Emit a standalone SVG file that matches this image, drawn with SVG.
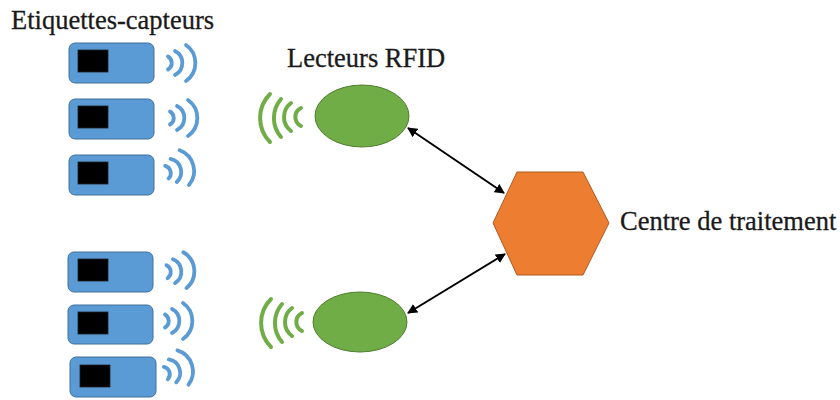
<svg xmlns="http://www.w3.org/2000/svg" width="840" height="400" viewBox="0 0 840 400">
  <defs>
    <style>
      .label { font-family: 'Liberation Serif', 'Times New Roman', serif; font-size: 26.5px; fill: #1a1a1a; stroke: #1a1a1a; stroke-width: 0.3; }
      .tag { fill: #5B9BD5; stroke: #41719C; stroke-width: 1; }
      .chip { fill: #000; stroke: #222; stroke-width: 0.8; }
      .bwave { fill: none; stroke: #5B9BD5; stroke-width: 3.8; stroke-linecap: round; }
      .gwave { fill: none; stroke: #70AD47; stroke-width: 4; stroke-linecap: round; }
      .reader { fill: #70AD47; stroke: #507E32; stroke-width: 1; }
      .hub { fill: #ED7D31; stroke: #AE5A21; stroke-width: 1; }
      .link { stroke: #000; stroke-width: 2; fill: none; marker-start: url(#head); marker-end: url(#head); }
    </style>
    <marker id="head" viewBox="0 0 10 10" refX="9" refY="5" markerWidth="5" markerHeight="5" orient="auto-start-reverse" markerUnits="strokeWidth">
      <path d="M0,0 L10,5 L0,10 z" fill="#000"/>
    </marker>
    <!-- tag emission waves, local origin at the left of the waves, vertical centre -->
    <g id="tagWaves">
      <path class="bwave" d="M3,-6.5 A7.5 7.5 0 0 1 3,6.5"/>
      <path class="bwave" d="M10,-12 A13.5 13.5 0 0 1 10,12"/>
      <path class="bwave" d="M21,-18 A22 22 0 0 1 21,18"/>
    </g>
    <!-- reader emission waves (opening to the right) -->
    <g id="readerWaves">
      <path class="gwave" d="M270,94 A34 34 0 0 0 270,142"/>
      <path class="gwave" d="M281,99 A29 29 0 0 0 281,137"/>
      <path class="gwave" d="M291,103 A17.5 17.5 0 0 0 291,131"/>
      <path class="gwave" d="M301,108 A10 10 0 0 0 301,126"/>
    </g>
  </defs>

  <rect width="840" height="400" fill="#fff"/>

  <!-- titles -->
  <text class="label" x="11" y="29">Etiquettes-capteurs</text>
  <text class="label" x="287" y="67">Lecteurs RFID</text>
  <text class="label" x="620" y="230">Centre de traitement</text>

  <!-- sensor tags -->
  <g id="tag1">
    <rect class="tag" x="69" y="43" width="85" height="40" rx="6"/>
    <rect class="chip" x="78" y="50" width="30" height="22"/>
    <use href="#tagWaves" transform="translate(165,63)"/>
  </g>
  <g id="tag2">
    <rect class="tag" x="69" y="99" width="85" height="40" rx="6"/>
    <rect class="chip" x="78" y="106" width="30" height="22"/>
    <use href="#tagWaves" transform="translate(167,118)"/>
  </g>
  <g id="tag3">
    <rect class="tag" x="69" y="155" width="85" height="40" rx="6"/>
    <rect class="chip" x="78" y="162" width="30" height="22"/>
    <use href="#tagWaves" transform="translate(164,173) rotate(-15)"/>
  </g>
  <g id="tag4">
    <rect class="tag" x="68" y="252" width="85" height="40" rx="6"/>
    <rect class="chip" x="78" y="259" width="30" height="22"/>
    <use href="#tagWaves" transform="translate(164,272) rotate(-5)"/>
  </g>
  <g id="tag5">
    <rect class="tag" x="68" y="305" width="85" height="39" rx="6"/>
    <rect class="chip" x="78" y="312" width="30" height="22"/>
    <use href="#tagWaves" transform="translate(162,321)"/>
  </g>
  <g id="tag6">
    <rect class="tag" x="70" y="357" width="86" height="40" rx="6"/>
    <rect class="chip" x="80" y="365" width="30" height="22"/>
    <use href="#tagWaves" transform="translate(163,374) rotate(-18)"/>
  </g>

  <!-- RFID readers -->
  <g id="reader1">
    <use href="#readerWaves"/>
    <ellipse class="reader" cx="362" cy="116" rx="47" ry="31"/>
  </g>
  <g id="reader2">
    <use href="#readerWaves" transform="translate(1,205)"/>
    <ellipse class="reader" cx="360" cy="322" rx="47" ry="30"/>
  </g>

  <!-- processing centre -->
  <g id="hub">
    <polygon class="hub" points="493,223 517,172 583,172 609,223 583,275 517,275"/>
  </g>

  <!-- links -->
  <g id="links">
    <line class="link" x1="408" y1="128" x2="504" y2="193"/>
    <line class="link" x1="505" y1="254" x2="408" y2="313"/>
  </g>
</svg>
